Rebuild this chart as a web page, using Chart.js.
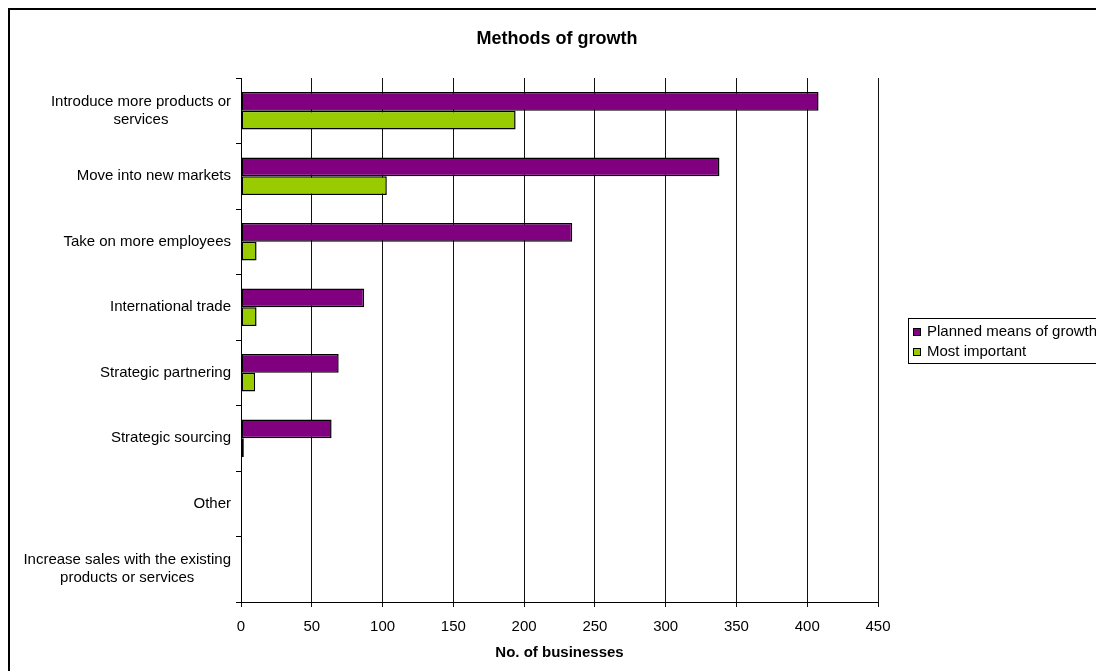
<!DOCTYPE html>
<html>
<head>
<meta charset="utf-8">
<title>Methods of growth</title>
<script src="https://cdn.jsdelivr.net/npm/chart.js@4.4.0/dist/chart.umd.min.js"></script>
<style>
html, body { margin: 0; padding: 0; background: #fff; overflow: hidden; }
#wrap { position: absolute; left: 0; top: 0; width: 1120px; height: 720px; }
</style>
</head>
<body>
<div id="wrap"><canvas id="myChart" width="1120" height="720"></canvas></div>
<script>
// Chart data
const chartTitle = 'Methods of growth';
const axisTitle = 'No. of businesses';
const categories = [
    ['Introduce more products or', 'services'],
    'Move into new markets',
    'Take on more employees',
    'International trade',
    'Strategic partnering',
    'Strategic sourcing',
    'Other',
    ['Increase sales with the existing', 'products or services']
];
const seriesNames = ['Planned means of growth', 'Most important'];
const plannedValues = [408, 338, 234, 87, 69, 64, 0, 0];
const importantValues = [194, 103, 11, 11, 10, 2, 0, 0];
const xMin = 0;
const xMax = 450;
const xStep = 50;

const PURPLE = '#800080';
const GREEN = '#99CC00';
const FONT = "'Liberation Sans', Arial, sans-serif";

Chart.defaults.font.family = FONT;
Chart.defaults.font.size = 15;
Chart.defaults.color = '#000';

// Border, title, wrapped y labels and the legend box
const decorPlugin = {
    id: 'decor',
    beforeDraw(chart) {
        const ctx = chart.ctx;
        ctx.save();
        ctx.fillStyle = '#fff';
        ctx.fillRect(0, 0, chart.width, chart.height);
        ctx.strokeStyle = '#000';
        ctx.lineWidth = 2;
        ctx.strokeRect(9, 9, chart.width + 50, chart.height + 50);
        ctx.restore();
    },
    afterDraw(chart) {
        const ctx = chart.ctx;
        const yScale = chart.scales.y;
        ctx.save();

        // title
        ctx.fillStyle = '#000';
        ctx.font = 'bold 18px ' + FONT;
        ctx.textAlign = 'center';
        ctx.textBaseline = 'middle';
        ctx.fillText(chartTitle, 557, 39);

        // category labels: each block right-aligned, lines centered in it
        ctx.font = '15px ' + FONT;
        categories.forEach((c, i) => {
            const lines = Array.isArray(c) ? c : [c];
            const y = yScale.getPixelForValue(i);
            const blockW = Math.max(...lines.map(l => ctx.measureText(l).width));
            const cx = yScale.right - 10 - blockW / 2;
            const y0 = y - (lines.length - 1) * 18 / 2;
            lines.forEach((l, k) => ctx.fillText(l, cx, y0 + k * 18));
        });

        // legend
        ctx.strokeStyle = '#000';
        ctx.lineWidth = 1;
        ctx.strokeRect(908.5, 318.5, 300, 45);
        const colors = [PURPLE, GREEN];
        ctx.textAlign = 'left';
        seriesNames.forEach((name, i) => {
            const cy = 332 + i * 20;
            ctx.fillStyle = colors[i];
            ctx.fillRect(913, cy - 4, 8, 8);
            ctx.strokeRect(913.5, cy - 3.5, 7, 7);
            ctx.fillStyle = '#000';
            ctx.fillText(name, 927, cy);
        });
        ctx.restore();
    }
};

const barStyle = {
    borderColor: '#000',
    borderWidth: 1.5,
    borderSkipped: false,
    categoryPercentage: 0.571,
    barPercentage: 1.0
};

const ctx = document.getElementById('myChart').getContext('2d');
const myChart = new Chart(ctx, {
    type: 'bar',
    data: {
        labels: categories.map(c => Array.isArray(c) ? c.join(' ') : c),
        datasets: [
            Object.assign({ label: seriesNames[0], data: plannedValues, backgroundColor: PURPLE }, barStyle),
            Object.assign({ label: seriesNames[1], data: importantValues, backgroundColor: GREEN }, barStyle)
        ]
    },
    options: {
        indexAxis: 'y',
        responsive: false,
        animation: false,
        layout: {
            padding: { left: 10, top: 78, right: 242, bottom: 58 }
        },
        plugins: {
            legend: { display: false },
            tooltip: { enabled: false },
            title: { display: false }
        },
        scales: {
            x: {
                min: xMin,
                max: xMax,
                ticks: { stepSize: xStep, padding: 11, color: '#000', font: { size: 15 } },
                grid: { color: '#111', lineWidth: 1, tickLength: 5 },
                border: { color: '#000', width: 1 },
                title: {
                    display: true,
                    text: axisTitle,
                    color: '#000',
                    font: { size: 15, weight: 'bold' },
                    padding: { top: 4, bottom: 0 }
                },
                afterFit(scale) { scale.height = 60; }
            },
            y: {
                ticks: { display: false },
                grid: { drawOnChartArea: false, drawTicks: true, tickLength: 5, color: '#000', offset: true },
                border: { color: '#000', width: 1 },
                afterFit(scale) { scale.width = 231; }
            }
        }
    },
    plugins: [decorPlugin]
});
</script>
</body>
</html>
